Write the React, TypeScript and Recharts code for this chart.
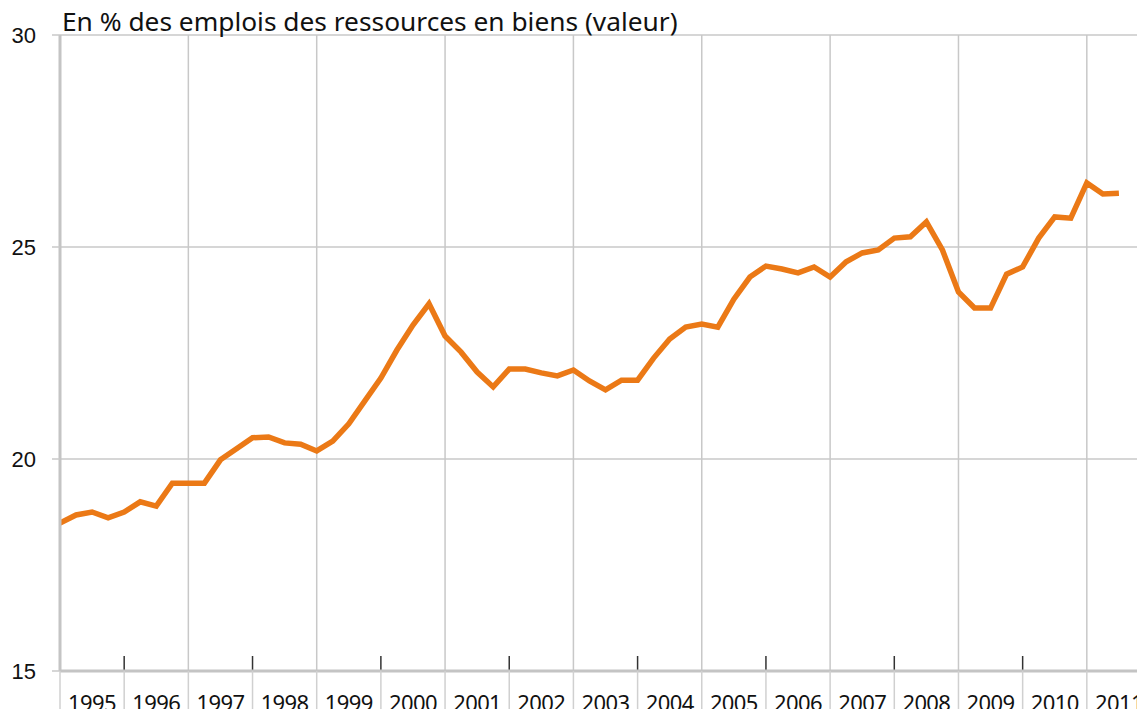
import React from 'react';
import { LineChart, Line, XAxis, YAxis, CartesianGrid } from 'recharts';

const title = 'En % des emplois des ressources en biens (valeur)';

const years = ['1995', '1996', '1997', '1998', '1999', '2000', '2001', '2002', '2003', '2004', '2005', '2006', '2007', '2008', '2009', '2010', '2011'];

// quarterly values, 1995 T1 .. 2011 T3
const values = [
  18.49, 18.68, 18.75, 18.61,
  18.75, 18.99, 18.89, 19.43,
  19.43, 19.43, 19.98, 20.24,
  20.50, 20.52, 20.38, 20.35,
  20.19, 20.42, 20.83, 21.37,
  21.91, 22.57, 23.16, 23.66,
  22.90, 22.52, 22.05, 21.70,
  22.12, 22.12, 22.03, 21.96,
  22.10, 21.84, 21.63, 21.86,
  21.86, 22.38, 22.83, 23.11,
  23.18, 23.11, 23.77, 24.29,
  24.55, 24.48, 24.39, 24.53,
  24.29, 24.65, 24.86, 24.93,
  25.21, 25.24, 25.59, 24.93,
  23.94, 23.56, 23.56, 24.36,
  24.53, 25.21, 25.71, 25.68,
  26.51, 26.25, 26.27,
];

const yTicks = [15, 20, 25, 30];

const data = values.map((v, i) => ({
  idx: i,
  quarter: `${years[Math.floor(i / 4)]} T${(i % 4) + 1}`,
  value: v,
}));

const xDomain = [0, years.length * 4];
const boundaryTicks = Array.from({ length: years.length + 1 }, (_, i) => i * 4);
const midTicks = years.map((_, i) => i * 4 + 2);
const allTicks = [...boundaryTicks, ...midTicks].sort((a, b) => a - b);
const gridTicks = boundaryTicks.filter((t) => t > 0 && (t / 4) % 2 === 0);
const darkTicks = boundaryTicks.filter((t) => (t / 4) % 2 === 1);

const EmptyTick = () => <g />;

function YearTick(props: any) {
  const { x, y, payload } = props;
  const v = payload.value as number;
  if (v % 4 === 0) {
    return <line x1={x} x2={x} y1={y} y2={y + 42} stroke="#D0D0D0" strokeWidth={1.5} />;
  }
  const label = years[(v - 2) / 4];
  return (
    <text x={x} y={y + 40} textAnchor="middle" fontFamily="Noto Sans" fontSize={22} letterSpacing={-0.6} fill="#111">
      {label}
    </text>
  );
}

export default function App() {
  return (
    <div style={{ position: 'relative', margin: -8, width: 1145, height: 717, overflow: 'hidden', background: '#fff' }}>
      <LineChart width={1151} height={717} data={data} margin={{ top: 35, right: 0, bottom: 0, left: 0 }}>
        <CartesianGrid xAxisId="grid" stroke="#C8C8C8" strokeWidth={1.5} vertical horizontal />
        <XAxis xAxisId="grid" dataKey="idx" type="number" domain={xDomain} ticks={gridTicks} interval={0} mirror tick={<EmptyTick />} tickLine={false} axisLine={false} allowDataOverflow />
        <XAxis xAxisId="dark" dataKey="idx" type="number" domain={xDomain} ticks={darkTicks} interval={0} mirror tick={<EmptyTick />} tickSize={15} tickLine={{ stroke: '#333', strokeWidth: 1.5 }} axisLine={false} allowDataOverflow />
        <XAxis
          xAxisId="lab"
          dataKey="idx"
          type="number"
          domain={xDomain}
          ticks={allTicks}
          interval={0}
          height={46}
          tickSize={0}
          tickMargin={0}
          tickLine={false}
          axisLine={{ stroke: '#C4C4C4', strokeWidth: 3 }}
          tick={<YearTick />}
          allowDataOverflow
        />
        <YAxis
          domain={[15, 30]}
          ticks={yTicks}
          width={60}
          tickSize={8}
          tickMargin={16}
          interval={0}
          tickLine={{ stroke: '#C8C8C8', strokeWidth: 1.5 }}
          axisLine={{ stroke: '#C4C4C4', strokeWidth: 3 }}
          tick={{ fontFamily: 'Liberation Sans', fontSize: 22, fill: '#111' }}
        />
        <Line
          xAxisId="lab"
          dataKey="value"
          type="linear"
          stroke="#EB7916"
          strokeWidth={5.5}
          dot={false}
          isAnimationActive={false}
        />
      </LineChart>
      <svg width={1145} height={717} style={{ position: 'absolute', left: 0, top: 0, pointerEvents: 'none' }}>
        <text x={62} y={31} fontFamily="Noto Sans" fontSize={26.3} fill="#111">{title}</text>
      </svg>
    </div>
  );
}
